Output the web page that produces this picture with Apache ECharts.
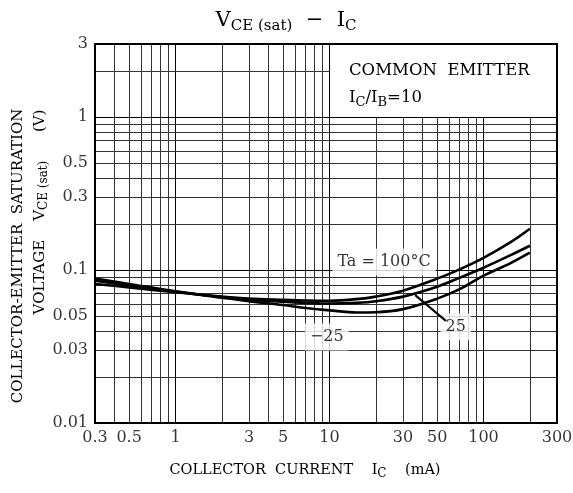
<!DOCTYPE html>
<html><head><meta charset="utf-8">
<script src="https://cdn.jsdelivr.net/npm/echarts@6/dist/echarts.min.js"></script>
<style>html,body{margin:0;padding:0;background:#fff}#c{width:573px;height:493px}</style>
</head><body><div id="c"></div>
<script>
// Collector current (mA)
const currentMA = [0.3, 0.5, 1, 2, 3, 5, 7, 10, 15, 20, 30, 50, 70, 100, 150, 200];
// VCE(sat) (V) per ambient temperature
const vce100 = [0.081, 0.077, 0.0715, 0.067, 0.065, 0.0638, 0.0632, 0.063, 0.0645, 0.067, 0.0733, 0.0878, 0.101, 0.120, 0.152, 0.186];
const vce25  = [0.085, 0.079, 0.072, 0.0665, 0.064, 0.062, 0.061, 0.0603, 0.061, 0.0625, 0.067, 0.0778, 0.089, 0.1035, 0.125, 0.144];
const vceM25 = [0.088, 0.081, 0.0725, 0.066, 0.0625, 0.059, 0.0565, 0.0545, 0.0528, 0.053, 0.0555, 0.065, 0.075, 0.0918, 0.111, 0.1297];
// tick labels
const xTickLabels = [0.3, 0.5, 1, 3, 5, 10, 30, 50, 100, 300];
const yTickLabels = [0.01, 0.03, 0.05, 0.1, 0.3, 0.5, 1, 3];
// grid lines
const xGridLines = [0.4, 0.5, 0.6, 0.7, 0.8, 0.9, 1, 2, 3, 4, 5, 6, 7, 8, 9, 10, 20, 30, 40, 50, 60, 70, 80, 90, 100, 200];
const yGridLines = [0.02, 0.03, 0.04, 0.05, 0.06, 0.07, 0.08, 0.09, 0.1, 0.2, 0.3, 0.4, 0.5, 0.6, 0.7, 0.8, 0.9, 1, 2];
const xMajor = [1, 10, 100];
const yMajor = [0.1, 1];
// curve annotations [x, y, text]
const curveLabels = [[22.6, 0.113, 'Ta = 100\u00B0C'], [9.6, 0.0365, '\u221225'], [66, 0.0425, '25']];
const leaderLine = [[36, 0.0685], [57, 0.0465]];

const FONT = 'DejaVu Serif';
const X_MIN = 0.3, X_MAX = 300, Y_MIN = 0.01, Y_MAX = 3;
const X_BOX = 10, Y_BOX = 1; // upper-right annotation box without grid

const gridData = [];
xGridLines.forEach(v => {
  const top = v <= X_BOX ? Y_MAX : Y_BOX;
  gridData.push({coords: [[v, Y_MIN], [v, top]], lineStyle: {color: xMajor.includes(v) ? '#000' : '#333'}});
});
yGridLines.forEach(v => {
  const right = v <= Y_BOX ? X_MAX : X_BOX;
  gridData.push({coords: [[X_MIN, v], [right, v]], lineStyle: {color: yMajor.includes(v) ? '#000' : '#333'}});
});

const curve = (arr) => currentMA.map((x, i) => [x, arr[i]]);
const curveSeries = (name, arr) => ({
  name, type: 'line', data: curve(arr), smooth: 0.35, showSymbol: false, symbol: 'none',
  lineStyle: {color: '#000', width: 2.6}, z: 5, silent: true
});

const chart = echarts.init(document.getElementById('c'), null, {renderer: 'canvas'});
chart.setOption({
  animation: false,
  backgroundColor: '#fff',
  grid: {left: 95, right: 16, top: 44, bottom: 70, show: true, borderColor: '#000', borderWidth: 2, backgroundColor: 'transparent', z: 10},
  xAxis: {type: 'log', logBase: 10, min: X_MIN, max: X_MAX, axisLabel: {show: false}, axisTick: {show: false}, axisLine: {show: false}, splitLine: {show: false}},
  yAxis: {type: 'log', logBase: 10, min: Y_MIN, max: Y_MAX, axisLabel: {show: false}, axisTick: {show: false}, axisLine: {show: false}, splitLine: {show: false}},
  series: [
    {type: 'lines', coordinateSystem: 'cartesian2d', polyline: false, silent: true, z: 1,
     lineStyle: {width: 1, opacity: 1}, data: gridData},
    {type: 'scatter', symbolSize: 0, silent: true, z: 3, clip: false,
     data: curveLabels.map(d => ({value: [d[0], d[1]], name: d[2]})),
     label: {show: true, position: 'inside', formatter: p => p.name, color: '#000', fontFamily: FONT, fontSize: 16,
             backgroundColor: '#fff', padding: [6, 5, 5, 5]}},
    {type: 'line', data: leaderLine, symbol: 'none', lineStyle: {color: '#000', width: 2}, z: 4, silent: true},
    curveSeries('Ta=100', vce100),
    curveSeries('Ta=25', vce25),
    curveSeries('Ta=-25', vceM25),
    {type: 'scatter', symbolSize: 0, silent: true, clip: false, z: 6,
     data: xTickLabels.map(v => [v, Y_MIN]),
     label: {show: true, position: 'bottom', distance: 7, formatter: p => String(p.value[0]), color: '#000', fontFamily: FONT, fontSize: 16}},
    {type: 'scatter', symbolSize: 0, silent: true, clip: false, z: 6,
     data: yTickLabels.map(v => [X_MIN, v]),
     label: {show: true, position: 'left', distance: 7, formatter: p => String(p.value[1]), color: '#000', fontFamily: FONT, fontSize: 16}}
  ],
  graphic: [
    {type: 'text', x: 286, y: 21, z: 20, style: {
      text: '{a|V}{b|CE (sat)}{a|  \u2212  I}{b|C}', align: 'center', verticalAlign: 'middle',
      rich: {a: {fontFamily: FONT, fontSize: 21, lineHeight: 26, fill: '#000'},
             b: {fontFamily: FONT, fontSize: 15, lineHeight: 12, verticalAlign: 'bottom', fill: '#000'}}}},
    {type: 'text', x: 349, y: 71, z: 20, style: {text: 'COMMON  EMITTER', fontFamily: FONT, fontSize: 16.5, fill: '#000', align: 'left', verticalAlign: 'middle'}},
    {type: 'text', x: 349, y: 98, z: 20, style: {
      text: '{a|I}{b|C}{a|/I}{b|B}{a|=10}', align: 'left', verticalAlign: 'middle',
      rich: {a: {fontFamily: FONT, fontSize: 16.5, lineHeight: 22, fill: '#000'},
             b: {fontFamily: FONT, fontSize: 13, lineHeight: 10, verticalAlign: 'bottom', fill: '#000'}}}},
    {type: 'text', x: 305, y: 470, z: 20, style: {
      text: '{a|COLLECTOR  CURRENT    I}{b|C}{a|    (mA)}', align: 'center', verticalAlign: 'middle',
      rich: {a: {fontFamily: FONT, fontSize: 14.5, lineHeight: 20, fill: '#000'},
             b: {fontFamily: FONT, fontSize: 12, lineHeight: 10, verticalAlign: 'bottom', fill: '#000'}}}},
    {type: 'text', x: 18, y: 256, rotation: Math.PI / 2, z: 20, style: {
      text: 'COLLECTOR-EMITTER  SATURATION', fontFamily: FONT, fontSize: 15, fill: '#000', align: 'center', verticalAlign: 'middle'}},
    {type: 'text', x: 40, y: 212, rotation: Math.PI / 2, z: 20, style: {
      text: '{a|VOLTAGE    V}{b|CE (sat)}{a|      (V)}', align: 'center', verticalAlign: 'middle',
      rich: {a: {fontFamily: FONT, fontSize: 15, lineHeight: 20, fill: '#000'},
             b: {fontFamily: FONT, fontSize: 12, lineHeight: 10, verticalAlign: 'bottom', fill: '#000'}}}}
  ]
});
</script></body></html>
